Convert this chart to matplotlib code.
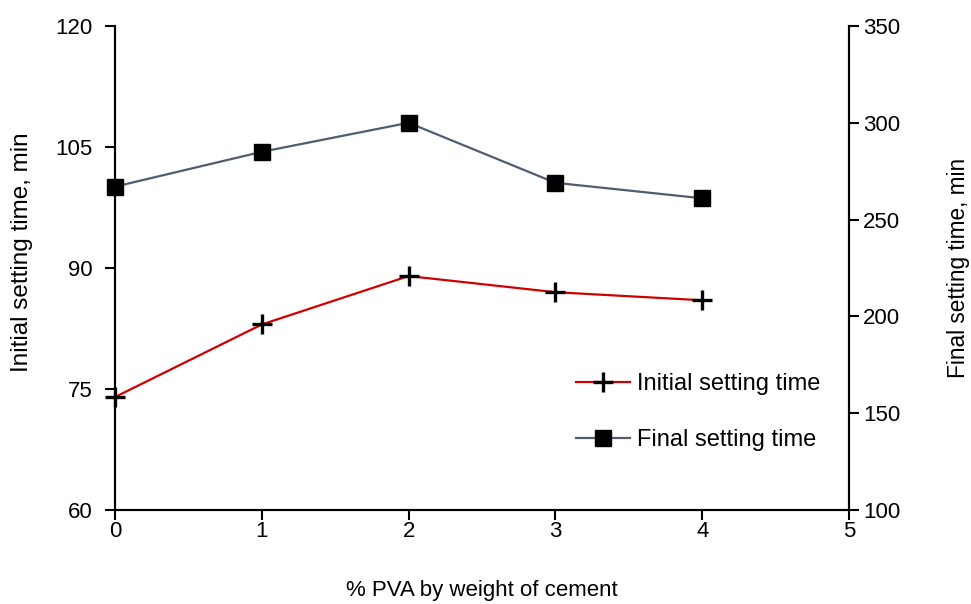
import matplotlib
matplotlib.use("Agg")
import matplotlib.pyplot as plt

# data
pva = [0, 1, 2, 3, 4]
initial_set = [74, 83, 89, 87, 86]
final_set = [267, 285, 300, 269, 261]

plt.rcParams["font.family"] = ["Liberation Sans", "DejaVu Sans"]
plt.rcParams["font.size"] = 16

fig = plt.figure(figsize=(9.71, 6.04), dpi=100)
ax = fig.add_axes([0.1184, 0.1556, 0.756, 0.8014])
ax2 = ax.twinx()

l1, = ax.plot(pva, initial_set, color="#d00000", lw=1.6, marker="+", ms=14,
              mew=2.4, mec="black", label="Initial setting time", clip_on=False, zorder=3)
l2, = ax2.plot(pva, final_set, color="#4f5d73", lw=1.6, marker="s", ms=11,
               mfc="black", mec="black", label="Final setting time", clip_on=False, zorder=3)

ax.set_xlim(0, 5)
ax.set_ylim(60, 120)
ax.set_yticks([60, 75, 90, 105, 120])
ax.set_xticks(range(6))
ax2.set_ylim(100, 350)
ax2.set_yticks(range(100, 351, 50))

for a in (ax, ax2):
    a.spines["top"].set_visible(False)
    for s in a.spines.values():
        s.set_linewidth(1.5)
    a.tick_params(direction="out", length=7, width=1.5, labelsize=16, colors="black")
ax.tick_params(axis="y", pad=9)
ax2.tick_params(axis="y", pad=3)
ax.tick_params(axis="x", pad=1)

ax.set_xlabel("% PVA by weight of cement", fontsize=16, labelpad=27)
ax.set_ylabel("Initial setting time, min", fontsize=17.5)
ax.yaxis.set_label_coords(-0.112, 0.532)
ax2.set_ylabel("Final setting time, min", fontsize=16.3, labelpad=34)

ax.legend([l1, l2], [l1.get_label(), l2.get_label()], loc="lower right",
          bbox_to_anchor=(0.99, 0.077), frameon=False, fontsize=17,
          handlelength=2.3, handletextpad=0.3, labelspacing=1.45)

fig.savefig("out.png", dpi=100)
